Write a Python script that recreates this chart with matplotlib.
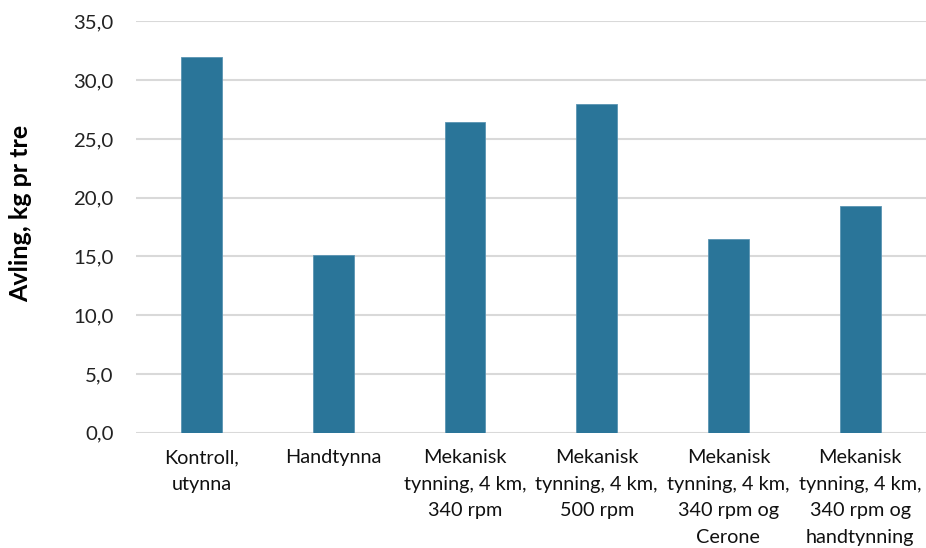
'''Avling per tre for ulike tynningsmetoder'''

import matplotlib
matplotlib.use('Agg')
import matplotlib.pyplot as plt

# behandlinger og avling (kg pr tre)
behandlinger = ['Kontroll,\nutynna',
                'Handtynna',
                'Mekanisk\ntynning, 4 km,\n340 rpm',
                'Mekanisk\ntynning, 4 km,\n500 rpm',
                'Mekanisk\ntynning, 4 km,\n340 rpm og\nCerone',
                'Mekanisk\ntynning, 4 km,\n340 rpm og\nhandtynning']
avling = [32.0, 15.1, 26.4, 28.0, 16.5, 19.3]
yticks = [0, 5, 10, 15, 20, 25, 30, 35]

plt.rcParams['font.family'] = ['Lato', 'DejaVu Sans']

fig = plt.figure(figsize=(9.26, 5.48), dpi=100)
ax = fig.add_axes([135.7 / 926, 0.2104, 1 - 135.7 / 926, 0.961 - 0.2104])

x = range(len(behandlinger))
ax.bar(x, avling, width=0.31, color='#2A7599', edgecolor='#5A94B3',
       linewidth=0.6, zorder=3)

ax.set_xlim(-0.5, 5.5)
ax.set_ylim(0, 35)
ax.set_yticks(yticks)
ax.set_yticklabels([f'{v:.1f}'.replace('.', ',') for v in yticks],
                   fontsize=14.7, color='#222222')
ax.set_xticks(list(x))
ax.set_xticklabels(behandlinger, fontsize=14.3, color='#111111',
                   linespacing=1.68, va='top')

ax.tick_params(axis='y', length=0, pad=16)
ax.tick_params(axis='x', length=0, pad=12)
ax.grid(axis='y', color='#D9D9D9', linewidth=1.5, zorder=0)
for s in ax.spines.values():
    s.set_visible(False)

fig.text(21 / 926, (548 - 213) / 548, 'Avling, kg pr tre', rotation=90,
         fontsize=18, fontweight='bold', ha='center', va='center')

fig.savefig('out.png', dpi=100)
